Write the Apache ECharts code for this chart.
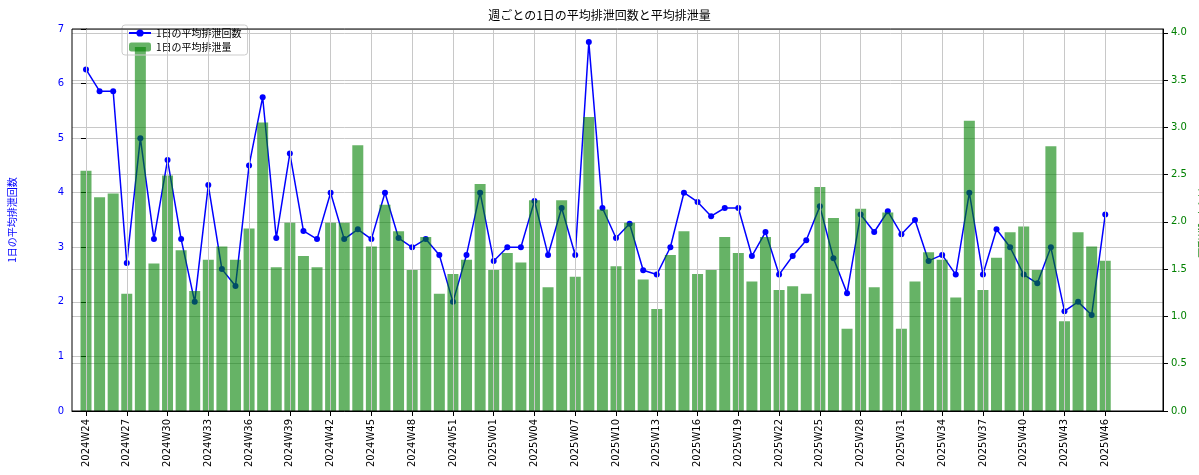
<!DOCTYPE html>
<html><head><meta charset="utf-8">
<script src="https://cdn.jsdelivr.net/npm/echarts@6/dist/echarts.min.js"></script>
<style>html,body{margin:0;background:#fff}#c{width:1199px;height:475px}</style>
</head><body><div id="c"></div>
<script>
// weeks 2024W24..2024W53, 2025W01..2025W46
const weeks = [];
for (let w = 24; w <= 53; w++) weeks.push('2024W' + w);
for (let w = 1; w <= 46; w++) weeks.push('2025W' + String(w).padStart(2, '0'));

const countPerDay = [6.26,5.86,5.86,2.71,5.0,3.15,4.6,3.15,2.0,4.14,2.6,2.29,4.5,5.75,3.17,4.72,3.3,3.15,4.0,3.15,
  3.33,3.15,4.0,3.17,3.0,3.15,2.86,2.0,2.86,4.0,2.75,3.0,3.0,3.85,2.86,3.72,2.86,6.76,3.72,3.17,
  3.43,2.58,2.5,3.0,4.0,3.83,3.57,3.72,3.72,2.84,3.28,2.5,2.84,3.13,3.75,2.8,2.16,3.6,3.28,3.66,
  3.24,3.5,2.75,2.86,2.5,4.0,2.5,3.33,3.0,2.5,2.34,3.0,1.83,2.0,1.76,3.6];
const amountPerDay = [2.54,2.26,2.3,1.24,3.85,1.56,2.49,1.7,1.27,1.6,1.74,1.6,1.93,3.05,1.52,1.99,1.64,1.52,1.99,1.99,
  2.81,1.74,2.18,1.9,1.49,1.84,1.24,1.45,1.6,2.4,1.49,1.67,1.57,2.23,1.31,2.23,1.42,3.11,2.13,1.53,
  1.99,1.39,1.08,1.65,1.9,1.45,1.49,1.84,1.67,1.37,1.84,1.28,1.32,1.24,2.37,2.04,0.87,2.14,1.31,2.1,
  0.87,1.37,1.68,1.6,1.2,3.07,1.28,1.62,1.89,1.95,1.49,2.8,0.95,1.89,1.74,1.59];

const tickIdx = [];
for (let i = 0; i < weeks.length; i += 3) tickIdx.push(i);

const chart = echarts.init(document.getElementById('c'));
const font = 'DejaVu Sans';
chart.setOption({
  animation: false,
  textStyle: {fontFamily: font},
  title: {text: '週ごとの1日の平均排泄回数と平均排泄量', left: 'center', top: 4,
    textStyle: {fontSize: 12, fontWeight: 'normal', color: '#000', fontFamily: 'Noto Sans CJK JP'}},
  legend: {
    left: 122, top: 25, orient: 'vertical', itemGap: 4, itemWidth: 22, itemHeight: 9,
    borderColor: '#ccc', borderWidth: 1, borderRadius: 3, padding: [3, 6],
    textStyle: {fontSize: 10, color: '#000', fontFamily: 'Noto Sans CJK JP'},
    data: ['1日の平均排泄回数', '1日の平均排泄量']
  },
  grid: {left: 72, right: 36, top: 29, bottom: 64, outerBoundsMode: 'none', containLabel: false},
  xAxis: {
    type: 'value', min: -1.03, max: 79.25,
    name: '週番号', nameLocation: 'middle', nameGap: 58,
    nameTextStyle: {fontSize: 10, fontFamily: 'Noto Sans CJK JP'},
    axisLine: {lineStyle: {color: '#000'}},
    axisTick: {show: true, customValues: tickIdx, lineStyle: {color: '#000'}},
    axisLabel: {customValues: tickIdx, rotate: 90, fontSize: 10, color: '#000',
      formatter: v => weeks[Math.round(v)]},
    splitLine: {show: false}
  },
  yAxis: [{
    type: 'value', min: 0, max: 7, interval: 1,
    name: '1日の平均排泄回数', nameLocation: 'middle', nameGap: 55,
    nameTextStyle: {color: '#0000ff', fontSize: 10, fontFamily: 'Noto Sans CJK JP'},
    axisLine: {show: true, lineStyle: {color: '#000'}},
    axisTick: {show: true},
    axisLabel: {color: '#0000ff', fontSize: 10},
    splitLine: {lineStyle: {color: '#c8c8c8'}}
  }, {
    type: 'value', min: 0, max: 4.04, interval: 0.5,
    name: '1日の平均排泄量', nameLocation: 'middle', nameGap: 32, nameRotate: -90,
    nameTextStyle: {color: '#008000', fontSize: 10, fontFamily: 'Noto Sans CJK JP'},
    axisLine: {show: true, lineStyle: {color: '#000'}},
    axisTick: {show: true},
    axisLabel: {color: '#008000', fontSize: 10, formatter: v => v.toFixed(1)},
    splitLine: {lineStyle: {color: '#c8c8c8'}}
  }],
  series: [{
    name: '1日の平均排泄回数', type: 'line', yAxisIndex: 0, z: 2,
    data: countPerDay.map((v, i) => [i, v]),
    symbol: 'circle', symbolSize: 6,
    itemStyle: {color: '#0000ff'}, lineStyle: {color: '#0000ff', width: 1.5},
    markLine: {silent: true, symbol: 'none', label: {show: false},
      lineStyle: {color: '#c8c8c8', type: 'solid', width: 1},
      data: tickIdx.map(i => ({xAxis: i}))}
  }, {
    name: '1日の平均排泄量', type: 'bar', yAxisIndex: 1, z: 3, barWidth: 11,
    data: amountPerDay.map((v, i) => [i, v]),
    itemStyle: {color: 'rgba(0,128,0,0.6)'}
  }],
  graphic: [{type: 'rect', shape: {x: 72, y: 29, width: 1091, height: 382}, z: 100,
    style: {fill: 'none', stroke: '#000', lineWidth: 1}, silent: true}]
});
</script></body></html>
